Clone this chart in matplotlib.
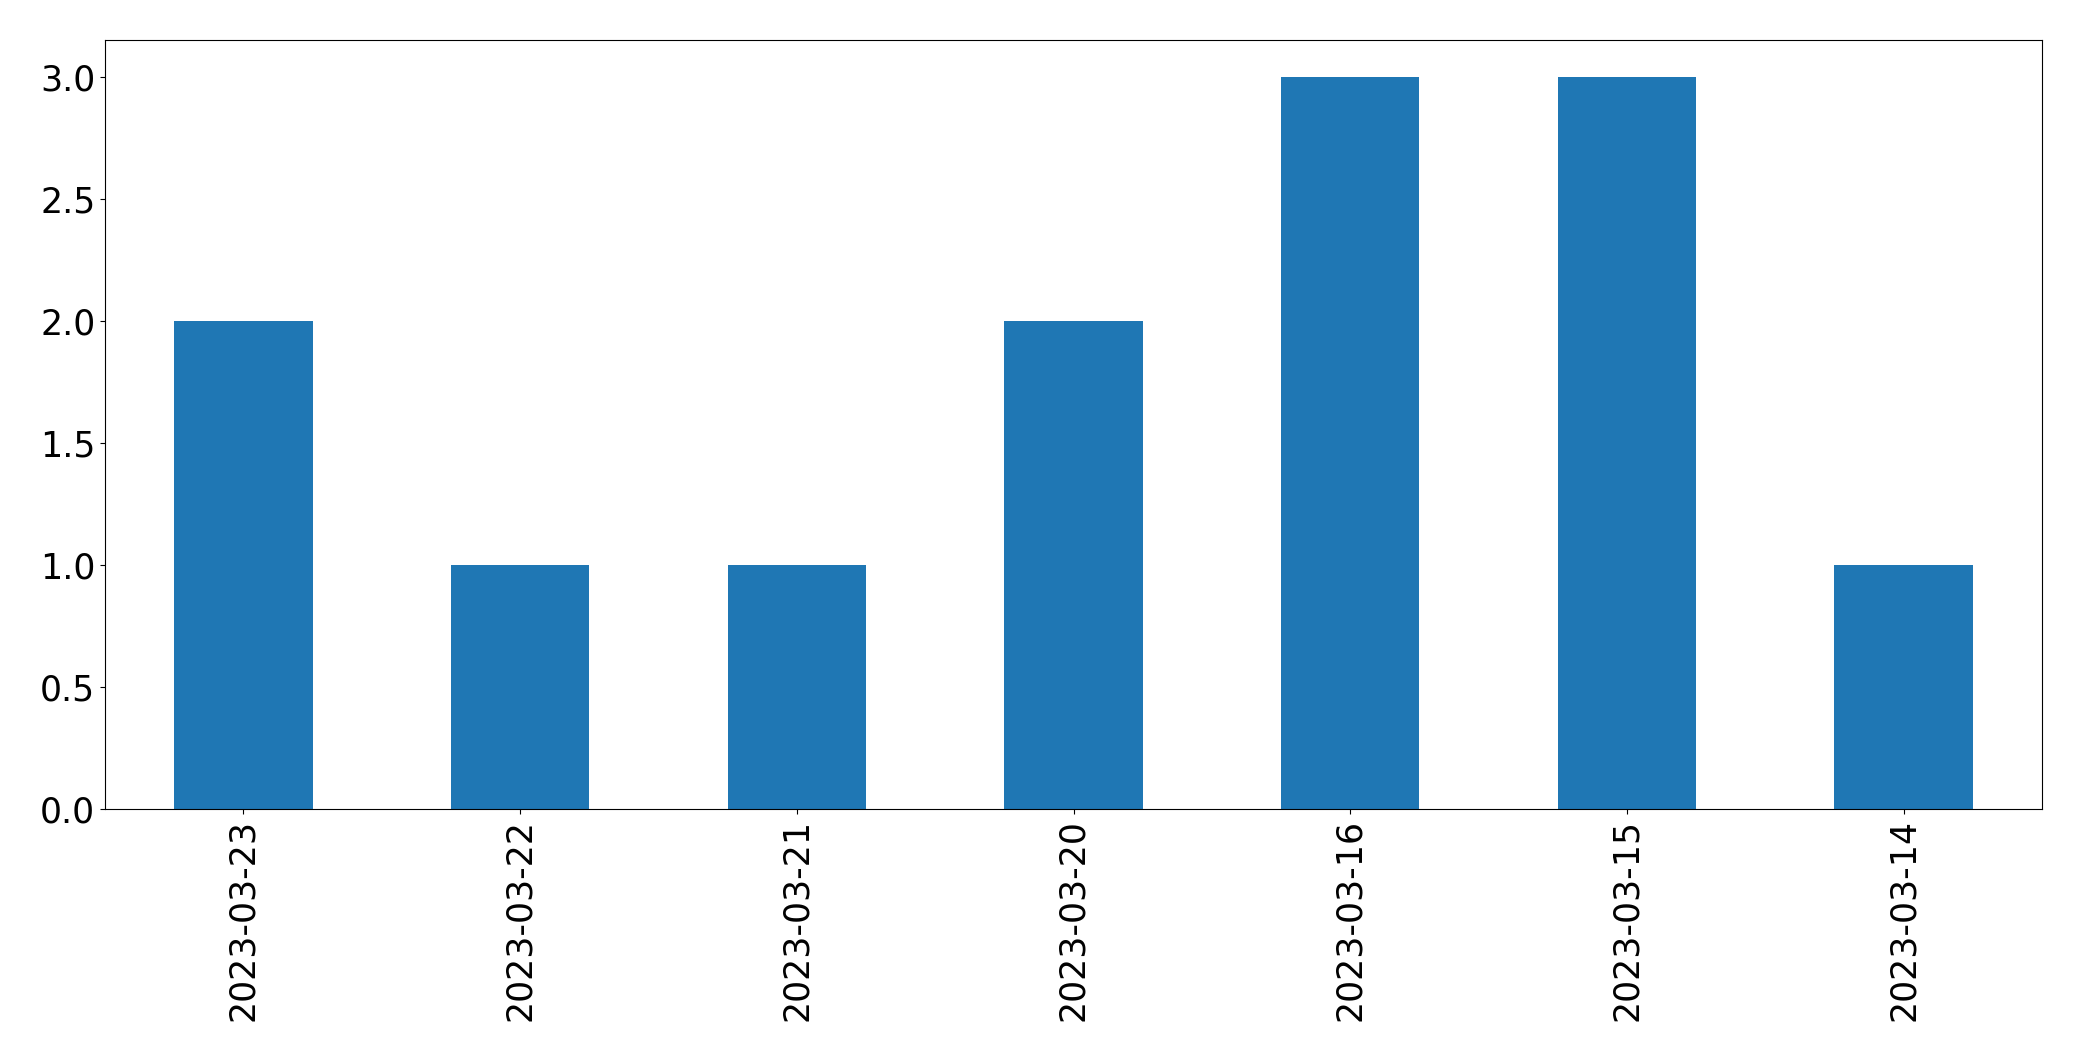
import matplotlib
matplotlib.use('Agg')
import matplotlib.pyplot as plt
import pandas as pd

# counts per day
dates = ['2023-03-23', '2023-03-22', '2023-03-21', '2023-03-20',
         '2023-03-16', '2023-03-15', '2023-03-14']
counts = [2, 1, 1, 2, 3, 3, 1]

s = pd.Series(counts, index=dates)

fig = plt.figure(figsize=(20.82, 10.61), dpi=100)
ax = fig.add_axes([105 / 2082, 1 - 809 / 1061, (2042 - 105) / 2082, (809 - 40) / 1061])
s.plot(kind='bar', ax=ax, color='#1f77b4', fontsize=25)

plt.savefig('out.png', dpi=100)
plt.close()
